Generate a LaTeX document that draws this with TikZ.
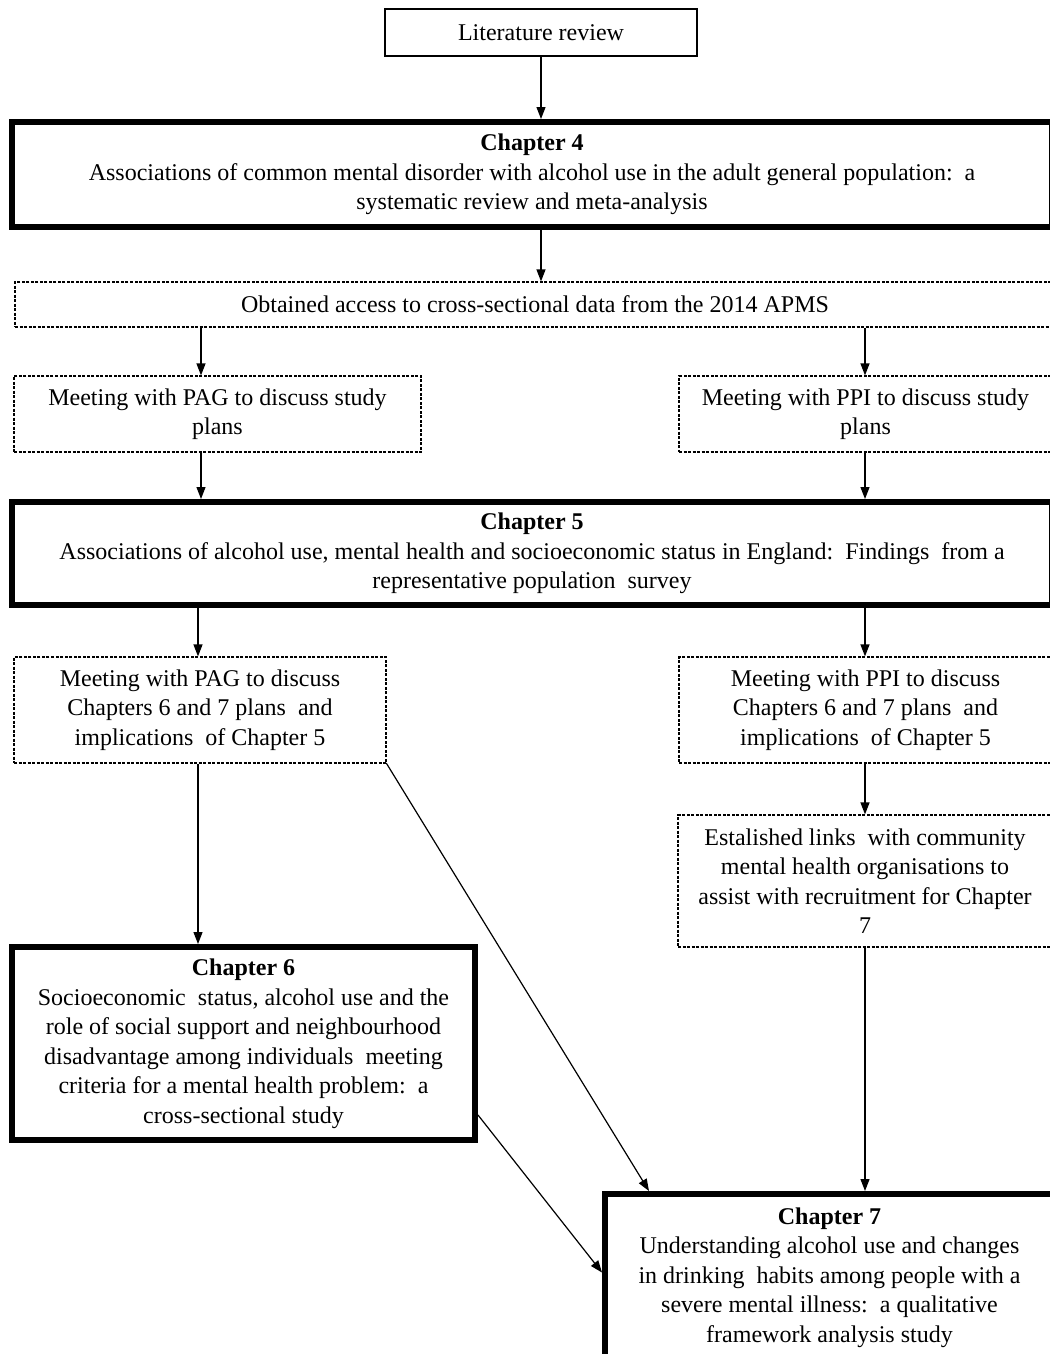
\documentclass[tikz,border=0pt]{standalone}
\usepackage{fontspec}
\setmainfont{Liberation Serif}
\usetikzlibrary{arrows.meta,positioning,calc}
\tikzset{
  >={Triangle[length=12pt,width=9pt]},
  every picture/.style={line width=1.2pt,font=\fontsize{24}{29.5}\selectfont},
  bx/.style={draw=black,fill=white,align=center,inner sep=0pt},
  bxd/.style={bx,dash pattern=on 3pt off 1.5pt},
  chap/.style={bx,line width=6pt},
  arr/.style={->,draw=black},
}
\begin{document}
\begin{tikzpicture}[x=1pt,y=-1pt]
  \useasboundingbox (0,0) rectangle (1049,1354);
  % columns of the straight arrows
  \coordinate (cm) at (541,0);
  \coordinate (cl) at (201,0);
  \coordinate (cl2) at (198,0);
  \coordinate (cr) at (865,0);
  % top
  \node[bx,minimum width=312pt,minimum height=47pt] (lit) at (541,32.5) {Literature review};
  \node[chap,minimum width=1040pt,minimum height=105pt] (ch4) at (532,174.5) {\textbf{Chapter 4}\\Associations of common mental disorder with alcohol use in the adult general population:\ \ a\\systematic review and meta-analysis};
  \node[bxd,minimum width=1040pt,minimum height=45pt] (apms) at (535,304.5) {Obtained access to cross-sectional data from the 2014 APMS};
  \node[bxd,minimum width=407pt,minimum height=76pt] (pag1) at (217.5,414) {Meeting with PAG to discuss study\\plans};
  \node[bxd,minimum width=373pt,minimum height=76pt] (ppi1) at (865.5,414) {Meeting with PPI to discuss study\\plans};
  \node[chap,minimum width=1040pt,minimum height=103pt] (ch5) at (532,553.5) {\textbf{Chapter 5}\\Associations of alcohol use, mental health and socioeconomic status in England:\ \ Findings\ \ from a\\representative population\ \ survey};
  % after chapter 5
  \node[bxd,minimum width=372pt,minimum height=106pt] (pag2) at (200,710) {Meeting with PAG to discuss\\Chapters 6 and 7 plans\ \ and\\implications\ \ of Chapter 5};
  \node[bxd,minimum width=373pt,minimum height=106pt] (ppi2) at (865.5,710) {Meeting with PPI to discuss\\Chapters 6 and 7 plans\ \ and\\implications\ \ of Chapter 5};
  \node[bxd,minimum width=374pt,minimum height=132pt] (est) at (865,881) {Estalished links\ \ with community\\mental health organisations to\\assist with recruitment for Chapter\\7};
  \node[chap,minimum width=463pt,minimum height=193pt] (ch6) at (243.5,1043.5) {\textbf{Chapter 6}\\Socioeconomic\ \ status, alcohol use and the\\role of social support and neighbourhood\\disadvantage among individuals\ \ meeting\\criteria for a mental health problem:\ \ a\\cross-sectional study};
  \node[chap,minimum width=449pt,minimum height=167pt] (ch7) at (829.5,1277.5) {\textbf{Chapter 7}\\Understanding alcohol use and changes\\in drinking\ \ habits among people with a\\severe mental illness:\ \ a qualitative\\framework analysis study};
  % arrows
  \draw[arr] (lit.south -| cm) -- (ch4.north -| cm);
  \draw[arr] (ch4.south -| cm) -- (apms.north -| cm);
  \draw[arr] (apms.south -| cl) -- (pag1.north -| cl);
  \draw[arr] (apms.south -| cr) -- (ppi1.north -| cr);
  \draw[arr] (pag1.south -| cl) -- (ch5.north -| cl);
  \draw[arr] (ppi1.south -| cr) -- (ch5.north -| cr);
  \draw[arr] (ch5.south -| cl2) -- (pag2.north -| cl2);
  \draw[arr] (ch5.south -| cr) -- (ppi2.north -| cr);
  \draw[arr] (ppi2.south -| cr) -- (est.north -| cr);
  \draw[arr] (pag2.south -| cl2) -- (ch6.north -| cl2);
  \draw[arr] (est.south -| cr) -- (ch7.north -| cr);
  \draw[arr] (pag2.south east) -- ($(ch7.north west)+(47,0)$);
  \draw[arr] ($(ch6.south east)+(0,-28)$) -- ($(ch7.west)+(0,-5)$);
\end{tikzpicture}
\end{document}
